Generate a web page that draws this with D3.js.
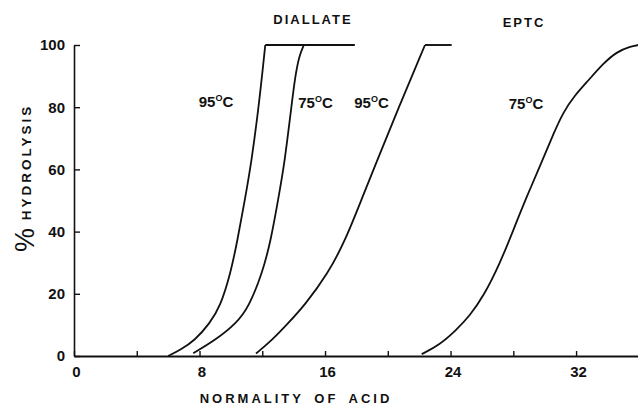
<!DOCTYPE html>
<html>
<head>
<meta charset="utf-8">
<script src="https://cdn.jsdelivr.net/npm/d3@7"></script>
<style>
  body { margin: 0; background: #fff; }
  svg { display: block; font-family: "Liberation Sans", Arial, sans-serif; font-weight: bold; }
</style>
</head>
<body>
<div id="chart"></div>
<script>
// values: normality of acid vs % hydrolysis
const diallate95N = [6.0, 6.75, 7.7, 8.65, 9.33, 9.98, 10.42, 10.88, 11.3, 11.82, 12.19];
const diallate95P = [0, 1.9, 5.0, 10.5, 16.0, 26.6, 37.3, 50.0, 62.0, 82.0, 100];
const diallate75N = [7.6, 9.0, 10.35, 11.15, 12.0, 12.55, 13.0, 13.42, 13.85, 14.1, 14.35, 14.65];
const diallate75P = [0.9, 5.1, 10.5, 15.9, 26.6, 37.3, 50.0, 62.0, 80.0, 90.0, 96.5, 100];
const eptc95N = [11.6, 12.6, 13.6, 14.7, 16.2, 17.3, 18.3, 19.25, 20.7, 22.37];
const eptc95P = [0.8, 5.0, 10.3, 16.3, 26.6, 37.3, 50.0, 62.0, 80.0, 100];
const eptc75N = [22.16, 23.3, 24.35, 25.2, 26.09, 27.15, 28.0, 28.85, 29.78, 30.6, 31.2, 31.88, 32.8, 33.74, 34.59, 35.44, 36];
const eptc75P = [0.6, 3.6, 8.3, 12.8, 19.1, 29.8, 40.5, 51.2, 62.0, 72.0, 78.5, 83.6, 88.7, 94.1, 97.8, 99.5, 100];
// flat 100 % run after the curve tops out
const plateauEnds = [17.9, null, 24.07, null];

const xTicks = [0, 4, 8, 12, 16, 20, 24, 28, 32];
const yTicks = [0, 20, 40, 60, 80, 100];

const curveLabels = ["95", "75", "95", "75"];
const curveLabelN = [9.05, 15.39, 18.96, 28.81];
const curveLabelP = [82, 81.7, 81.7, 81.3];
const groupNames = ["DIALLATE", "EPTC"];
const groupN = [15.23, 28.68];
const groupP = [108.3, 107.3];

const series = [
  { n: diallate95N, p: diallate95P, end: plateauEnds[0] },
  { n: diallate75N, p: diallate75P, end: plateauEnds[1] },
  { n: eptc95N, p: eptc95P, end: plateauEnds[2] },
  { n: eptc75N, p: eptc75P, end: plateauEnds[3] },
];

const W = 638, H = 406;
const margin = { top: 45, left: 74, bottom: 50 };

const svg = d3.select("#chart").append("svg")
  .attr("width", W).attr("height", H);

const x = d3.scaleLinear().domain([0, 36]).range([margin.left, margin.left + 36 * 15.69]);
const y = d3.scaleLinear().domain([0, 100]).range([H - margin.bottom, margin.top]);

// axes
const xAxis = d3.axisBottom(x).tickValues(xTicks)
  .tickFormat(d => (d % 8 === 0 ? d : ""))
  .tickSize(-5).tickSizeOuter(0).tickPadding(10);
const yAxis = d3.axisLeft(y).tickValues(yTicks)
  .tickSize(-6).tickSizeOuter(0).tickPadding(9);

const gx = svg.append("g").attr("transform", `translate(0,${y(0)})`).call(xAxis);
const gy = svg.append("g").attr("transform", `translate(${x(0)},0)`).call(yAxis);

[gx, gy].forEach(g => {
  g.selectAll("text").attr("fill", "#111").style("font-size", "15px")
    .style("font-weight", "bold").style("font-family", "Liberation Sans, Arial, sans-serif");
  g.selectAll("line").attr("stroke", "#111").attr("stroke-width", 1.4);
});
gx.selectAll("text").attr("dx", 2);
gx.select(".domain").attr("stroke", "#111").attr("stroke-width", 2.2);
gy.select(".domain").attr("stroke", "#111").attr("stroke-width", 1.6);

// curves
const line = d3.line().x(d => x(d[0])).y(d => y(d[1])).curve(d3.curveBasis);

series.forEach(s => {
  const pts = s.n.map((v, i) => [v, s.p[i]]);
  svg.append("path").attr("d", line(pts))
    .attr("fill", "none").attr("stroke", "#111").attr("stroke-width", 1.8);
  if (s.end) {
    const last = pts[pts.length - 1];
    svg.append("line")
      .attr("x1", x(last[0])).attr("y1", y(100))
      .attr("x2", x(s.end)).attr("y2", y(100))
      .attr("stroke", "#111").attr("stroke-width", 1.9);
  }
});

// temperature labels
curveLabels.forEach((t, i) => {
  const txt = svg.append("text")
    .attr("x", x(curveLabelN[i])).attr("y", y(curveLabelP[i]))
    .attr("dy", "0.38em").attr("text-anchor", "middle")
    .attr("fill", "#111").style("font-size", "15px");
  txt.append("tspan").text(t);
  txt.append("tspan").text("O").style("font-size", "9px").attr("dy", -6);
  txt.append("tspan").text("C").attr("dy", 6);
});

groupNames.forEach((t, i) => {
  svg.append("text")
    .attr("x", x(groupN[i])).attr("y", y(groupP[i]))
    .attr("dy", "0.38em").attr("text-anchor", "middle")
    .attr("fill", "#111").style("font-size", "13px").style("letter-spacing", "2px")
    .text(t);
});

// axis titles
svg.append("text")
  .attr("x", 296).attr("y", 403)
  .attr("text-anchor", "middle").attr("fill", "#111")
  .style("font-size", "13px").style("letter-spacing", "3px").style("word-spacing", "4px")
  .text("NORMALITY OF ACID");

svg.append("text")
  .attr("transform", "translate(26,162) rotate(-90)")
  .attr("text-anchor", "middle").attr("dominant-baseline", "central")
  .attr("fill", "#111").style("font-size", "13.5px").style("letter-spacing", "3px")
  .text("HYDROLYSIS");

svg.append("text")
  .attr("transform", "translate(25,240) rotate(-90)")
  .attr("text-anchor", "middle").attr("dominant-baseline", "central")
  .attr("fill", "#111").style("font-size", "27px").style("font-weight", "normal")
  .text("%");
</script>
</body>
</html>
